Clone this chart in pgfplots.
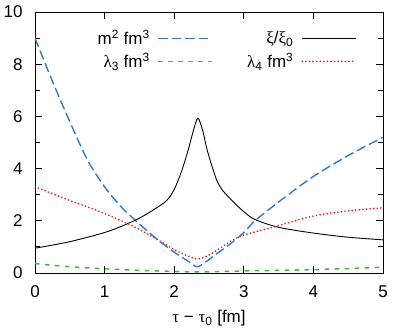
\documentclass[border=0pt]{standalone}
\usepackage{fontspec}
\setmainfont{Liberation Sans}
\newfontfamily\gr{Liberation Serif}
\usepackage{pgfplots}
\pgfplotsset{compat=1.18}
\definecolor{mblue}{RGB}{52,122,192}
\definecolor{lgreen}{RGB}{70,180,60}
\definecolor{lred}{RGB}{238,30,30}
\newcommand{\fs}{\fontsize{17}{20}\selectfont}
\begin{document}
\begin{tikzpicture}[font=\fs]
\begin{axis}[
    scale only axis,
    width=348pt, height=261pt,
    xmin=0, xmax=5, ymin=0, ymax=10,
    xtick={0,1,2,3,4,5},
    ytick={0,2,4,6,8,10},
    minor ytick={1,3,5,7,9},
    tick align=inside,
    major tick length=7pt,
    minor tick length=5pt,
    tick style={line width=0.9pt, black},
    /pgf/number format/assume math mode=true,
    tick label style={font=\fs},
    yticklabel style={xshift=-9pt},
    xticklabel style={yshift=-9pt},
    xlabel={{\gr τ} − {\gr τ}\textsubscript{0} [fm]},
    xlabel style={yshift=-6pt, font=\fs},
    legend columns=2,
    legend plot pos=right,
    legend cell align=right,
    legend style={draw=none, fill=none, font=\fs,
        at={(axis description cs:0.935,0.946)}, anchor=north east,
        row sep=3pt, column sep=6pt,
        /tikz/every even column/.append style={column sep=32pt}},
    legend image code/.code={\draw[#1] (0pt,0pt) -- (54pt,0pt);},
]
\addplot[mblue, line width=1.4pt, dash pattern=on 9.5pt off 4pt, smooth, tension=0.5] coordinates {
    (0,9.0) (0.25,7.35) (0.5,5.8) (0.75,4.35) (1.0,3.3) (1.25,2.5) (1.5,1.88)
    (1.75,1.3) (2.0,0.8) (2.2,0.45) (2.33,0.24) (2.45,0.42) (2.6,0.72)
    (2.8,1.1) (3.0,1.55) (3.16,2.0) (3.5,2.72) (4.0,3.7) (4.5,4.5) (5.0,5.2)
};
\addlegendentry{m\textsuperscript{2} fm\textsuperscript{3}}
\addplot[black, line width=0.9pt, smooth] coordinates {
    (0,0.95) (0.5,1.2) (1.0,1.55) (1.25,1.8) (1.5,2.1) (1.75,2.5) (1.9,2.8)
    (2.0,3.2) (2.1,3.85) (2.2,4.7) (2.27,5.4) (2.34,5.93) (2.41,5.45)
    (2.47,4.75) (2.56,3.95) (2.62,3.5) (2.7,3.15) (2.84,2.75) (3.0,2.35)
    (3.16,2.05) (3.5,1.75) (4.0,1.53) (4.5,1.37) (5.0,1.27)
};
\addlegendentry{{\gr ξ}/{\gr ξ}\textsubscript{0}}
\addplot[lgreen, line width=1.5pt, dash pattern=on 4.5pt off 5.5pt, smooth] coordinates {
    (0,0.36) (0.5,0.24) (1.0,0.16) (1.5,0.1) (2.0,0.06) (2.33,0.04)
    (2.6,0.05) (3.0,0.08) (3.5,0.1) (4.0,0.13) (4.5,0.17) (5.0,0.22)
};
\addlegendentry{{\gr λ}\textsubscript{3} fm\textsuperscript{3}}
\addplot[lred, line width=1.9pt, line cap=round, dash pattern=on 0pt off 3.6pt, smooth, tension=0.5] coordinates {
    (0,3.3) (0.5,2.78) (1.0,2.28) (1.5,1.67) (2.0,0.9) (2.2,0.65) (2.33,0.54)
    (2.45,0.62) (2.6,0.85) (2.84,1.26) (3.0,1.45) (3.42,1.76) (4.0,2.18)
    (4.5,2.38) (5.0,2.5)
};
\addlegendentry{{\gr λ}\textsubscript{4} fm\textsuperscript{3}}
\end{axis}
\path ([shift={(-35pt,-61pt)}]current axis.south west) rectangle ([shift={(16pt,12pt)}]current axis.north east);
\end{tikzpicture}
\end{document}
